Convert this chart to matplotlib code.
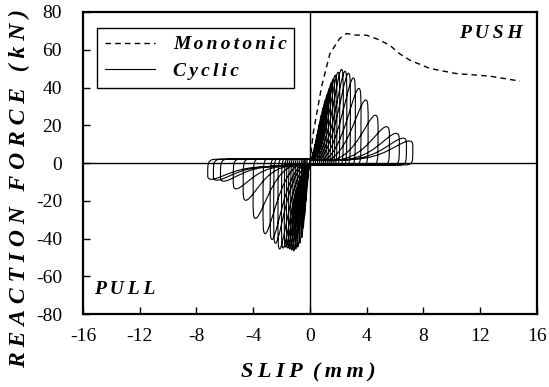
import matplotlib
matplotlib.use("Agg")
import matplotlib.pyplot as plt
from matplotlib.path import Path
from matplotlib.patches import PathPatch

plt.rcParams['font.family'] = ['Liberation Serif', 'DejaVu Serif']
plt.rcParams['axes.unicode_minus'] = False

# monotonic push test
mono_slip = [0.0, 0.23, 0.82, 1.41, 2.1, 2.58, 3.2, 4.0, 4.8, 5.63, 6.3, 7.04, 8.45, 10.3, 12.7, 14.8]
mono_force = [0.0, 15.7, 40.4, 58.0, 66.0, 68.6, 67.8, 67.7, 65.5, 62.4, 58.0, 54.5, 50.1, 47.4, 46.0, 43.4]

# cyclic test: peak of each cycle, push then pull
push_slip = [0.25, 0.4, 0.55, 0.7, 0.85, 1.0, 1.15, 1.3, 1.45, 1.6, 1.75, 1.9,
             2.1, 2.35, 2.6, 2.85, 3.2, 3.6, 4.1, 4.8, 5.6, 6.3, 6.8, 7.25]
push_force = [6, 10, 15, 20, 25, 29, 33, 36, 39, 42, 44, 46,
              47.5, 49, 48, 47, 44.5, 39, 33, 25, 19, 15.5, 13, 11.5]
pull_slip = [-0.2, -0.3, -0.4, -0.5, -0.6, -0.75, -0.9, -1.05, -1.2, -1.35, -1.5, -1.65,
             -1.8, -2.0, -2.25, -2.55, -2.8, -3.3, -4.0, -4.7, -5.4, -6.3, -6.8, -7.2]
pull_force = [-12, -20, -28, -34, -39, -42, -44, -45, -46, -45.5, -45, -44.5,
              -44, -44.5, -45, -42, -40, -37, -29, -19.5, -13.5, -9.5, -9, -8.5]

xticks = list(range(-16, 17, 4))
yticks = list(range(-80, 81, 20))


def lobe(a, p, back):
    # one half cycle: rise to the peak, unload at the tip, slide back to zero
    s = 1 if a > 0 else -1
    w = min(0.45 * abs(a) + 0.8, 0.85 * abs(a)) * s
    xb = a - w
    base = 2.0 * s
    verts = [(xb * 0.5, base * 0.4), (xb * 0.8, base * 0.7), (xb, base),
             (xb + 0.5 * w, 0.25 * p), (a - 0.3 * w, 0.85 * p), (a - 0.1 * w, p),
             (a + 0.02 * w, 1.07 * p), (a, 0.85 * p), (a, 0.55 * p),
             (a, 0.0), (a, back), (a - 0.15 * w, back),
             (0.0, back)]
    codes = [Path.CURVE4] * 12 + [Path.LINETO]
    return verts, codes


def spaced(txt, gap):
    return gap.join(txt)


fig = plt.figure(figsize=(5.49, 3.87), dpi=100)
ax = fig.add_axes([0.151, 0.1886, 0.827, 0.7804])

verts = [(0.0, 0.0)]
codes = [Path.MOVETO]
for a, p, b, q in zip(push_slip, push_force, pull_slip, pull_force):
    v, c = lobe(a, p, -1.0)
    verts += v
    codes += c
    v, c = lobe(b, q, 2.0)
    verts += v
    codes += c
ax.add_patch(PathPatch(Path(verts, codes), facecolor='none', edgecolor='black', lw=0.8))
ax.plot([], [], color='black', lw=0.8, label=spaced('Cyclic', '\u2006'))

ax.plot(mono_slip, mono_force, color='black', lw=1.0, ls=(0, (4, 3)),
        label=spaced('Monotonic', '\u2006'))

ax.axhline(0, color='black', lw=1.0)
ax.axvline(0, color='black', lw=1.0)

ax.set_xlim(-16, 16)
ax.set_ylim(-80, 80)
ax.set_xticks(xticks)
ax.set_yticks(yticks)
ax.tick_params(direction='in', length=5, width=1, labelsize=14)
ax.tick_params(axis='x', pad=10)
ax.tick_params(axis='y', pad=15)
for sp in ax.spines.values():
    sp.set_linewidth(1.6)

bi = dict(fontweight='bold', fontstyle='italic')
fig.text(308 / 549, 1 - 377 / 387, 'S\u2009L\u2009I\u2009P\u2009 (\u2009m\u2009m\u2009)',
         ha='center', va='baseline', fontsize=16, **bi)
ylab = '\u2002\u2006'.join(spaced(wd, '\u2005') for wd in ['REACTION', 'FORCE', '(kN)'])
fig.text(0.036, 1 - 189 / 387, ylab, rotation=90, ha='center', va='center', fontsize=17, **bi)
ax.text(0.899, 0.93, 'P\u2009U\u2009S\u2009H', transform=ax.transAxes, ha='center', va='center',
        fontsize=14, **bi)
ax.text(0.091, 0.08, 'P\u2009U\u2009L\u2009L', transform=ax.transAxes, ha='center', va='center',
        fontsize=14, **bi)

h, l = ax.get_legend_handles_labels()
leg = ax.legend(h[::-1], l[::-1], loc='upper left', bbox_to_anchor=(0.031, 0.947), borderaxespad=0,
                fancybox=False, framealpha=1, edgecolor='black', handlelength=2.6,
                prop=dict(family=['Liberation Serif', 'DejaVu Serif'], weight='bold', style='italic', size=14),
                borderpad=0.4, labelspacing=0.45, handletextpad=0.9)
leg.get_frame().set_linewidth(1.0)

fig.savefig('out.png', dpi=100)
